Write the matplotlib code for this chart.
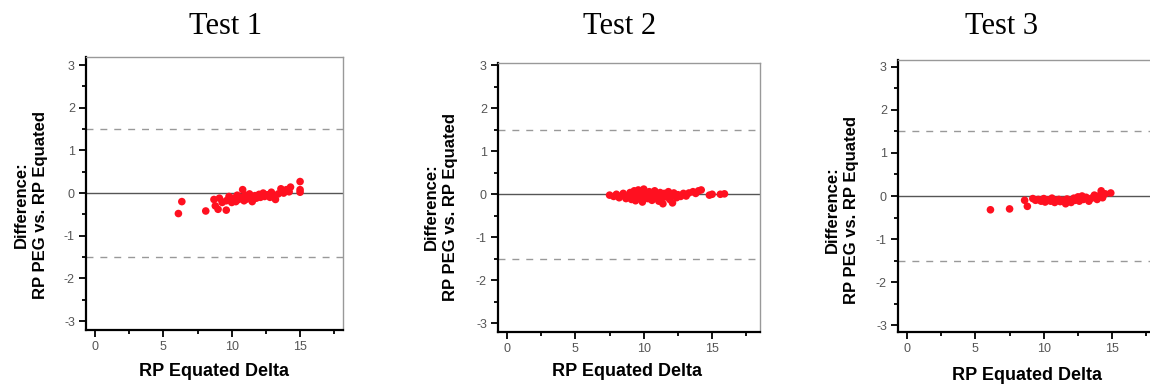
import matplotlib
matplotlib.use('Agg')
import matplotlib.pyplot as plt
from matplotlib.ticker import MultipleLocator

plt.rcParams['font.family'] = ['Liberation Sans', 'DejaVu Sans']
plt.rcParams['axes.unicode_minus'] = False

# Bland-Altman style data: x = RP equated delta, y = RP PEG minus RP equated
test1_x = [6.1, 6.35, 8.1, 8.7, 8.8, 9.0, 9.1, 9.3, 9.6, 9.6, 9.8, 10.0, 10.1, 10.3,
           10.4, 10.5, 10.7, 10.8, 10.9, 11.0, 11.1, 11.3, 11.4, 11.5, 11.7, 11.8,
           12.0, 12.1, 12.3, 12.4, 12.6, 12.8, 12.9, 13.1, 13.2, 13.4, 13.6, 13.8,
           14.0, 14.2, 14.3, 15.0, 15.0, 15.0]
test1_y = [-0.48, -0.2, -0.42, -0.15, -0.3, -0.38, -0.12, -0.22, -0.4, -0.18, -0.08,
           -0.22, -0.12, -0.2, -0.05, -0.15, -0.1, 0.08, -0.18, -0.05, -0.14, -0.02,
           -0.1, -0.2, -0.06, -0.12, -0.03, -0.1, 0.0, -0.08, -0.04, -0.1, 0.02,
           -0.06, -0.15, -0.02, 0.1, 0.0, 0.08, 0.03, 0.14, 0.27, 0.08, 0.02]

test2_x = [7.5, 7.8, 8.0, 8.2, 8.4, 8.5, 8.7, 8.8, 9.0, 9.1, 9.2, 9.3, 9.4, 9.5, 9.6,
           9.7, 9.8, 9.9, 10.0, 10.1, 10.2, 10.3, 10.4, 10.5, 10.6, 10.7, 10.8, 10.9,
           11.0, 11.1, 11.2, 11.3, 11.4, 11.5, 11.6, 11.8, 11.9, 12.0, 12.1, 12.2,
           12.4, 12.5, 12.7, 12.9, 13.1, 13.3, 13.6, 13.8, 14.0, 14.2, 14.8, 15.0,
           15.6, 15.9]
test2_y = [-0.02, -0.05, 0.0, -0.08, -0.03, 0.02, -0.1, -0.05, 0.04, -0.12, -0.02,
           0.08, -0.15, 0.0, 0.1, -0.08, 0.05, -0.18, 0.12, -0.04, 0.02, -0.1, 0.06,
           -0.06, -0.14, 0.0, 0.08, -0.08, -0.02, -0.16, 0.04, -0.1, -0.22, 0.02,
           -0.06, 0.06, -0.12, -0.03, -0.2, 0.03, -0.08, -0.01, -0.05, 0.02, -0.04,
           0.03, 0.06, 0.02, 0.08, 0.1, -0.02, 0.0, 0.0, 0.01]

test3_x = [6.1, 7.5, 8.6, 8.8, 9.2, 9.4, 9.6, 9.8, 10.0, 10.1, 10.3, 10.5, 10.6, 10.8,
           10.9, 11.1, 11.2, 11.4, 11.6, 11.7, 11.9, 12.0, 12.2, 12.3, 12.5, 12.6,
           12.8, 12.9, 13.1, 13.3, 13.5, 13.7, 13.9, 14.0, 14.2, 14.3, 14.5, 14.9]
test3_y = [-0.32, -0.3, -0.1, -0.24, -0.06, -0.1, -0.08, -0.12, -0.06, -0.14, -0.09,
           -0.12, -0.05, -0.15, -0.1, -0.08, -0.13, -0.1, -0.18, -0.07, -0.12, -0.15,
           -0.05, -0.1, -0.02, -0.12, 0.0, -0.08, -0.03, -0.12, -0.05, 0.02, -0.08,
           0.0, 0.12, -0.04, 0.05, 0.07]

titles = ['Test 1', 'Test 2', 'Test 3']
limit = 1.5

W, H = 1150, 384
fig = plt.figure(figsize=(W / 100, H / 100), dpi=100)

# panel boxes in pixels: left, top, right, bottom, ylim
boxes = [(86, 57, 343, 330, (-3.21, 3.19)),
         (498, 63, 760, 332, (-3.2, 3.05)),
         (898, 60, 1160, 332, (-3.16, 3.16))]
title_pos = [(226, 26), (620, 26), (1002, 26)]
ylab_pos = [(31, 205), (441, 207), (842, 210)]
xlab_pos = [(214, 371), (627, 371), (1027, 375)]

data = [(test1_x, test1_y), (test2_x, test2_y), (test3_x, test3_y)]

for i, (xs, ys) in enumerate(data):
    l, t, r, b, ylim = boxes[i]
    ax = fig.add_axes([l / W, 1 - b / H, (r - l) / W, (b - t) / H])
    ax.set_xlim(-0.66, 18.5 if i else 18.14)
    ax.set_ylim(*ylim)

    ax.axhline(0, color='#555555', lw=1.0, zorder=1)
    for v in (limit, -limit):
        ax.axhline(v, color='#999999', lw=1.0, dashes=(5, 5), zorder=1)
    ax.scatter(xs, ys, s=30, color='#ff1020', edgecolors='none', zorder=3)

    ax.xaxis.set_major_locator(MultipleLocator(5))
    ax.xaxis.set_minor_locator(MultipleLocator(2.5))
    ax.yaxis.set_major_locator(MultipleLocator(1))
    ax.yaxis.set_minor_locator(MultipleLocator(0.5))
    ax.tick_params(which='major', length=5, width=1.3, color='black',
                   labelsize=9, labelcolor='#555555', pad=3)
    ax.tick_params(which='minor', length=3, width=1.3, color='black')
    for side in ('left', 'bottom'):
        ax.spines[side].set_linewidth(1.6)
        ax.spines[side].set_color('black')
    for side in ('top', 'right'):
        ax.spines[side].set_linewidth(1.0)
        ax.spines[side].set_color('#999999')

    tx, ty = title_pos[i]
    fig.text(tx / W, 1 - ty / H, titles[i], ha='center', va='center',
             fontsize=22, family=['Liberation Serif', 'DejaVu Serif'])
    yx, yy = ylab_pos[i]
    fig.text(yx / W, 1 - yy / H, 'Difference:\nRP PEG vs. RP Equated',
             rotation=90, ha='center', va='center', fontsize=12,
             fontweight='bold', linespacing=1.4, multialignment='center')
    xx, xy = xlab_pos[i]
    fig.text(xx / W, 1 - xy / H, 'RP Equated Delta', ha='center', va='center',
             fontsize=13, fontweight='bold')

fig.savefig('out.png', dpi=100, facecolor='white')
